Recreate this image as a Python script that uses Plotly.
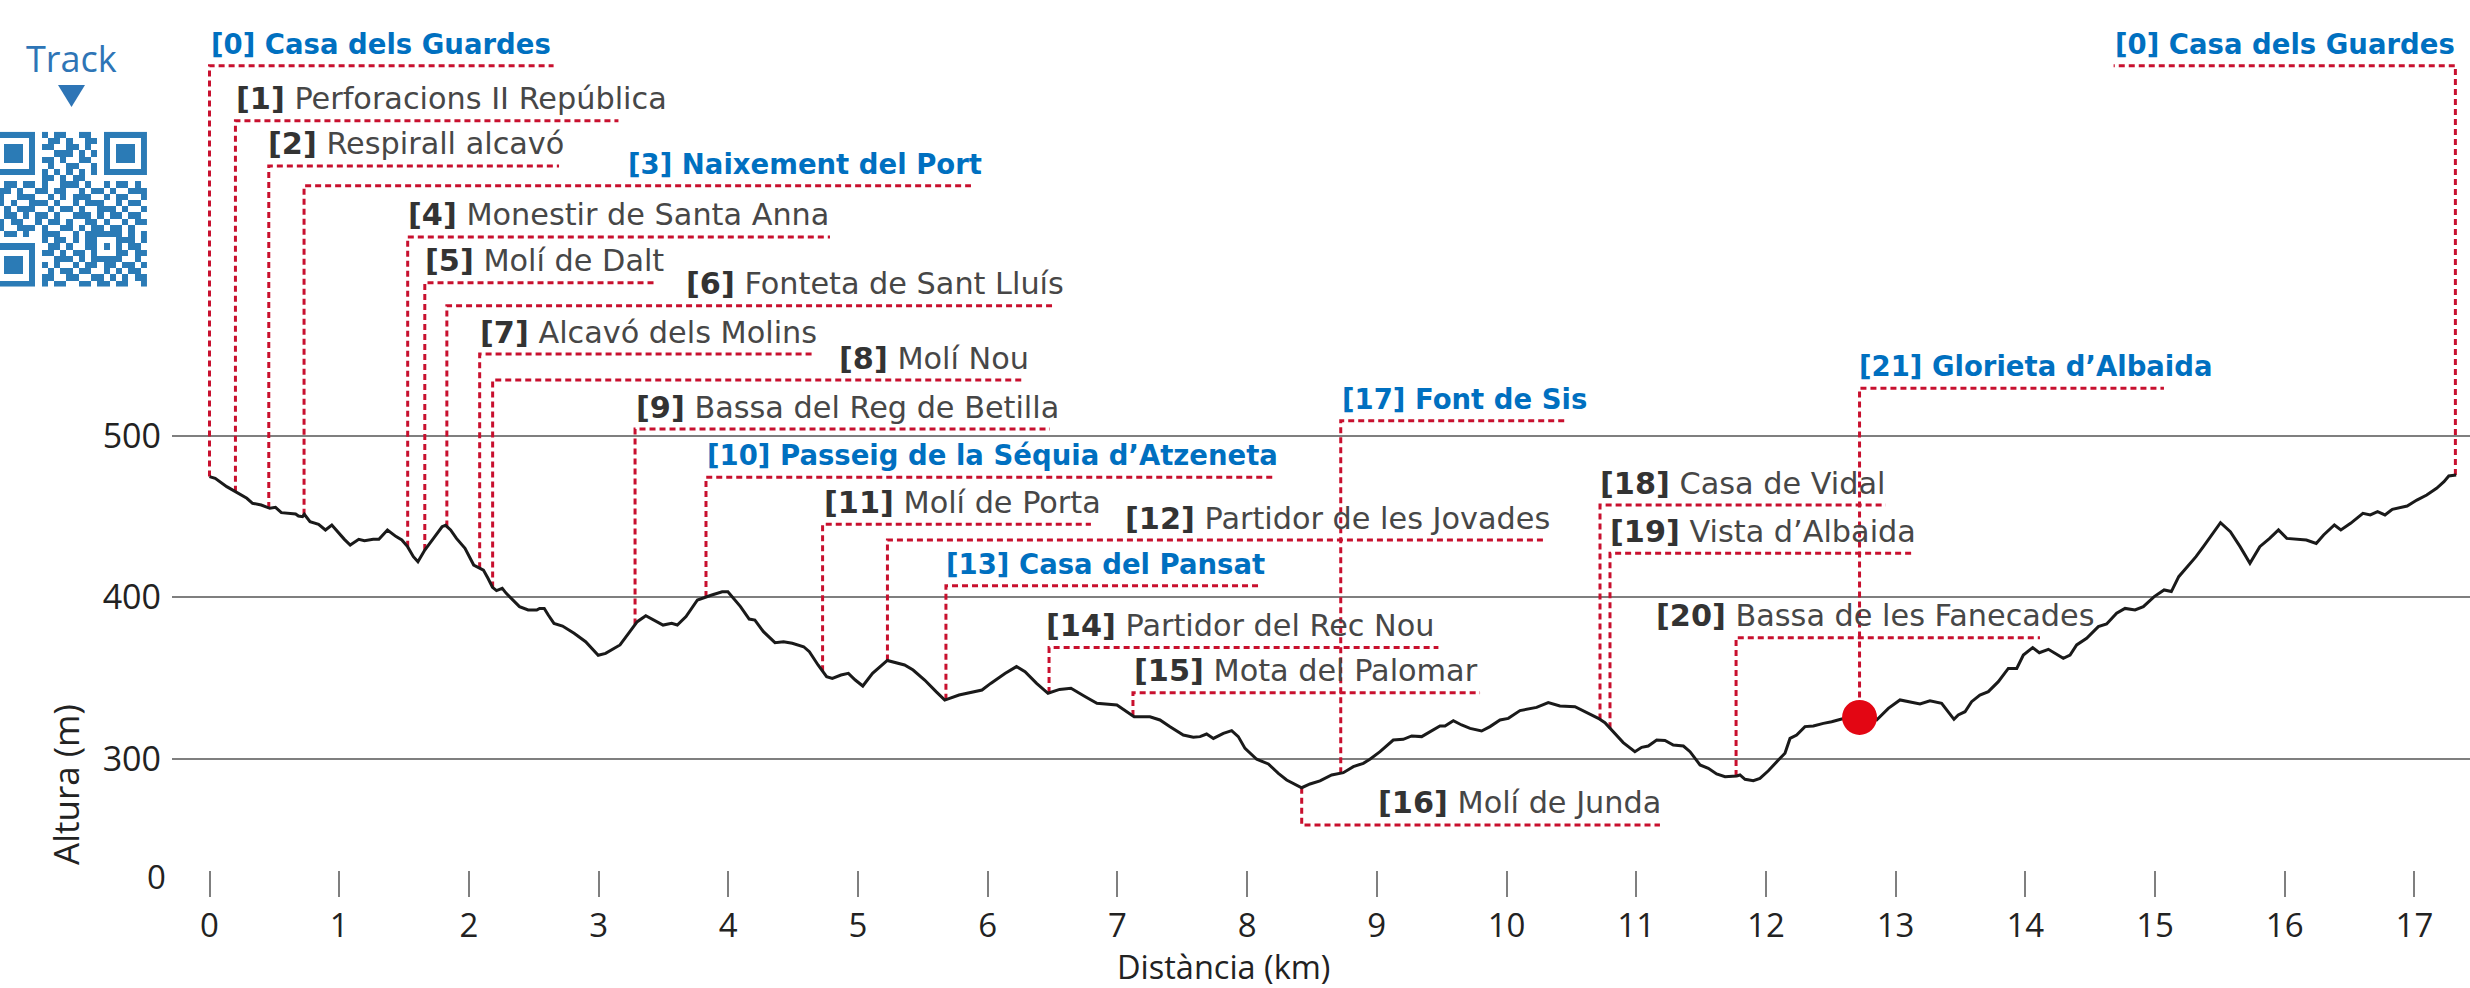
import numpy as np
import plotly.graph_objects as go

# ---------------- data ----------------
PROFILE_KM = [0.000, 0.044, 0.133, 0.199, 0.288, 0.332, 0.399, 0.465, 0.509, 0.554, 0.620, 0.664, 0.686, 0.717,
              0.731, 0.775, 0.841, 0.894, 0.943, 0.996, 1.040, 1.085, 1.151, 1.195, 1.262, 1.306, 1.372, 1.439,
              1.483, 1.527, 1.572, 1.607, 1.660, 1.727, 1.793, 1.820, 1.859, 1.904, 1.970, 2.037, 2.112, 2.147,
              2.182, 2.213, 2.257, 2.288, 2.324, 2.390, 2.457, 2.523, 2.545, 2.581, 2.612, 2.656, 2.722, 2.811,
              2.900, 2.997, 3.054, 3.121, 3.165, 3.231, 3.298, 3.364, 3.430, 3.497, 3.563, 3.607, 3.674, 3.762,
              3.873, 3.953, 3.997, 4.028, 4.094, 4.161, 4.205, 4.271, 4.360, 4.426, 4.493, 4.581, 4.625, 4.692,
              4.758, 4.802, 4.869, 4.926, 4.979, 5.037, 5.112, 5.226, 5.359, 5.425, 5.514, 5.602, 5.669, 5.779,
              5.890, 5.956, 6.023, 6.133, 6.222, 6.288, 6.377, 6.465, 6.554, 6.642, 6.753, 6.842, 6.996, 7.129,
              7.251, 7.328, 7.406, 7.508, 7.585, 7.637, 7.688, 7.740, 7.817, 7.881, 7.932, 7.984, 8.074, 8.164,
              8.241, 8.305, 8.421, 8.485, 8.562, 8.652, 8.742, 8.819, 8.896, 8.947, 9.025, 9.127, 9.204, 9.269,
              9.346, 9.410, 9.487, 9.526, 9.590, 9.654, 9.719, 9.808, 9.873, 9.950, 10.014, 10.104, 10.232,
              10.322, 10.412, 10.528, 10.618, 10.708, 10.759, 10.823, 10.900, 10.990, 11.042, 11.093, 11.158,
              11.222, 11.286, 11.364, 11.415, 11.492, 11.556, 11.620, 11.685, 11.775, 11.800, 11.839, 11.903,
              11.954, 12.019, 12.096, 12.147, 12.186, 12.237, 12.301, 12.366, 12.443, 12.507, 12.584, 12.720,
              12.854, 12.944, 13.034, 13.111, 13.188, 13.265, 13.355, 13.450, 13.483, 13.535, 13.586, 13.650,
              13.715, 13.792, 13.869, 13.934, 13.985, 14.057, 14.108, 14.178, 14.293, 14.345, 14.396, 14.473,
              14.563, 14.627, 14.704, 14.769, 14.846, 14.910, 14.994, 15.070, 15.126, 15.183, 15.240, 15.316,
              15.373, 15.429, 15.505, 15.581, 15.656, 15.732, 15.808, 15.884, 15.952, 16.016, 16.092, 16.167,
              16.243, 16.300, 16.383, 16.433, 16.508, 16.603, 16.660, 16.716, 16.773, 16.830, 16.944, 17.019,
              17.095, 17.171, 17.228, 17.265, 17.322]
PROFILE_M = [474.7, 473.6, 468.5, 465.4, 461.3, 458.2, 457.1, 455.1, 455.7, 452.4, 452.0, 451.6, 450.3, 449.9,
             451.4, 446.8, 445.2, 441.7, 444.8, 439.6, 435.9, 432.4, 435.9, 435.1, 435.9, 435.9, 441.7, 437.6,
             435.5, 431.4, 425.2, 422.1, 429.3, 436.5, 443.7, 444.6, 441.7, 436.5, 430.3, 420.0, 416.9, 411.8,
             406.2, 404.2, 405.6, 402.5, 399.4, 394.3, 392.2, 392.2, 393.2, 393.2, 389.1, 383.9, 382.3, 377.8,
             372.6, 364.2, 365.4, 368.5, 370.6, 377.8, 385.0, 388.7, 386.0, 382.9, 384.0, 382.9, 388.1, 398.4,
             401.5, 403.5, 403.5, 400.5, 394.3, 386.6, 386.0, 378.8, 372.0, 372.6, 371.6, 369.5, 366.4, 358.2,
             351.0, 349.9, 352.0, 353.0, 348.9, 345.2, 353.0, 361.0, 358.2, 355.1, 348.9, 341.7, 336.5, 339.6,
             341.7, 342.7, 346.8, 353.0, 357.2, 354.1, 346.8, 340.7, 343.1, 343.8, 338.6, 334.5, 333.5, 326.2,
             326.2, 324.2, 320.0, 314.9, 313.5, 313.9, 315.5, 312.8, 315.9, 317.6, 313.9, 306.6, 299.9, 297.0,
             291.2, 287.1, 282.3, 284.6, 286.5, 290.2, 291.6, 295.3, 297.4, 299.9, 304.6, 311.8, 312.2, 314.3,
             313.9, 317.0, 320.5, 320.5, 323.8, 321.1, 319.0, 317.4, 320.1, 324.2, 325.2, 330.0, 332.0,
             334.9, 332.8, 332.4, 328.7, 325.2, 322.5, 317.0, 310.2, 304.6, 307.3, 308.1, 311.8,
             311.5, 308.7, 308.1, 304.6, 296.4, 294.3, 290.8, 289.1, 289.6, 290.2, 287.5, 286.7,
             288.1, 292.8, 299.4, 303.6, 312.8, 314.9, 320.1, 320.5, 322.1, 323.1, 324.8, 325.8,
             324.2, 331.4, 336.6, 335.5, 334.1, 336.1, 334.5, 324.6, 327.3, 329.3, 335.5, 339.6,
             341.7, 347.9, 356.1, 356.1, 364.4, 368.9, 365.8, 367.9, 362.3, 364.4, 370.6, 374.7,
             381.9, 383.6, 390.2, 393.2, 392.2, 394.3, 400.5, 404.6, 403.6, 412.8, 418.0, 425.2,
             431.4, 437.6, 446.2, 440.6, 431.4, 421.1, 431.4, 436.5, 441.7, 436.5, 435.9, 435.5,
             433.4, 438.6, 444.8, 441.7, 445.8, 452.0, 451.0, 453.0, 451.0, 454.5, 456.5, 460.2,
             463.3, 467.5, 471.6, 475.1, 475.7]

WAYPOINT_ID = [0, 1, 2, 3, 4, 5, 6, 7, 8, 9, 10, 11, 12, 13, 14, 15, 16, 17, 18, 19, 20, 21, 0]
WAYPOINT_NAME = ["Casa dels Guardes", "Perforacions II República", "Respirall alcavó", "Naixement del Port",
                 "Monestir de Santa Anna", "Molí de Dalt", "Fonteta de Sant Lluís", "Alcavó dels Molins",
                 "Molí Nou", "Bassa del Reg de Betilla", "Passeig de la Séquia d’Atzeneta", "Molí de Porta",
                 "Partidor de les Jovades", "Casa del Pansat", "Partidor del Rec Nou", "Mota del Palomar",
                 "Molí de Junda", "Font de Sis", "Casa de Vidal", "Vista d’Albaida", "Bassa de les Fanecades",
                 "Glorieta d’Albaida", "Casa dels Guardes"]
WAYPOINT_KM = [0.0, 0.20, 0.457, 0.729, 1.528, 1.660, 1.830, 2.083, 2.183, 3.281, 3.828, 4.727, 5.227,
               5.678, 6.473, 7.120, 8.421, 8.722, 10.721, 10.798, 11.770, 12.722, 17.316]
WAYPOINT_HIGHLIGHT = [1, 0, 0, 1, 0, 0, 0, 0, 0, 0, 1, 0, 0, 1, 0, 0, 0, 1, 0, 0, 0, 1, 1]
CURRENT_WAYPOINT = 21

X_TICKS = list(range(0, 18))
Y_TICKS = [300, 400, 500]

# ---------------- label layout (positions, not data) ----------------
LINE_Y = [728.8, 694.8, 666.8, 654.6, 622.9, 594.6, 580.4, 550.5, 534.4, 504.1, 474.3, 445.2, 435.5,
          407.2, 369.0, 341.1, 259.3, 509.3, 457.1, 427.3, 375.1, 529.3, 728.8]
LINE_X1 = [2.653, 3.153, 2.695, 5.871, 4.784, 3.450, 6.496, 4.658, 6.280, 6.480, 8.223, 6.796, 10.303,
           8.103, 9.475, 9.796, 11.183, 10.471, 12.924, 13.146, 14.113, 15.069, 14.681]
TEXT_X = [0.0, 0.197, 0.443, 3.219, 1.523, 1.654, 3.666, 2.075, 4.846, 3.281, 3.828, 4.727, 7.049,
          5.668, 6.442, 7.120, 8.999, 8.724, 10.713, 10.790, 11.145, 12.710, 17.322]
TEXT_ANCHOR = ["left"] * 22 + ["right"]

QR_ROWS = [
    "1111111010110011001111111",
    "1000001001101001101000001",
    "1011101011001101001011101",
    "1011101000111010101011101",
    "1011101011010011001011101",
    "1000001001001100101000001",
    "1111111010101010101111111",
    "0000000011010110000000000",
    "1011011010011101001011010",
    "0110100110110010110100111",
    "1100111001010111001011001",
    "0101001110100101110010110",
    "1010111001011010011101001",
    "0011010110100111010110110",
    "1101100101101001101001011",
    "0100111010011010110110100",
    "1011010011100101111110101",
    "0000000010110101100011101",
    "1111111001101001101010110",
    "1000001011010110100011011",
    "1011101000111010111110010",
    "1011101010100101101101101",
    "1011101001011011001010110",
    "1000001011001100110101011",
    "1111111010110011011011001",
]

# ---------------- styles ----------------
W, H = 2470, 988
PLOT_LEFT, PLOT_BOTTOM = 172, 870
KM0_PX, PX_PER_KM = 209.5, 129.7
M500_PX, PX_PER_M = 435.7, 1.617
RED = "#c8102e"
BLUE = "#0070c0"
LABEL_FONT = "DejaVu Sans"
AXIS_FONT = "Open Sans"

x_range = [(PLOT_LEFT - KM0_PX) / PX_PER_KM, (W - KM0_PX) / PX_PER_KM]
y_range = [500 - (PLOT_BOTTOM - M500_PX) / PX_PER_M, 500 + M500_PX / PX_PER_M]

fig = go.Figure()

# leaders
lx, ly = [], []
for i, km in enumerate(WAYPOINT_KM):
    elev = float(np.interp(km, PROFILE_KM, PROFILE_M))
    lx += [km, km, LINE_X1[i], None]
    ly += [elev, LINE_Y[i], LINE_Y[i], None]
fig.add_trace(go.Scatter(x=lx, y=ly, mode="lines", line=dict(color=RED, width=3, dash="6px,4px"),
                         hoverinfo="skip", showlegend=False))

# profile
fig.add_trace(go.Scatter(x=PROFILE_KM, y=PROFILE_M, mode="lines", line=dict(color="#1a1a1a", width=3),
                         hoverinfo="skip", showlegend=False))

# current position dot
ck = WAYPOINT_KM[CURRENT_WAYPOINT]
fig.add_trace(go.Scatter(x=[ck], y=[float(np.interp(ck, PROFILE_KM, PROFILE_M))], mode="markers",
                         marker=dict(color="#e30613", size=35), hoverinfo="skip", showlegend=False))

# QR code (decorative)
qr = [[int(c) for c in row] for row in QR_ROWS]
fig.add_trace(go.Heatmap(z=qr, xaxis="x2", yaxis="y2", colorscale=[[0, "white"], [1, "#2b7bb6"]],
                         showscale=False, hoverinfo="skip", zmin=0, zmax=1))

annotations = []
for i, name in enumerate(WAYPOINT_NAME):
    wid = WAYPOINT_ID[i]
    if WAYPOINT_HIGHLIGHT[i]:
        txt = f"<b>[{wid}] {name}</b>"
        font = dict(family=LABEL_FONT, size=27.5, color=BLUE)
    else:
        txt = f"<span style='color:#333333'><b>[{wid}]</b></span> {name}"
        font = dict(family=LABEL_FONT, size=30.3, color="#474747")
    annotations.append(dict(x=TEXT_X[i], y=LINE_Y[i], xref="x", yref="y", text=txt, showarrow=False,
                            xanchor=TEXT_ANCHOR[i], yanchor="middle", yshift=22, font=font, borderpad=0))

annotations += [
    dict(x=156 / W, y=1 - 876.5 / PLOT_BOTTOM, xref="paper", yref="paper", text="0", showarrow=False,
         font=dict(family=AXIS_FONT, size=33, color="#222"), xanchor="center", yanchor="middle"),
    dict(x=65 / W, y=1 - 785 / PLOT_BOTTOM, xref="paper", yref="paper", text="Altura (m)", showarrow=False,
         textangle=-90, font=dict(family=AXIS_FONT, size=35, color="#222"), xanchor="center", yanchor="middle"),
    dict(x=1223 / W, y=1 - 966 / PLOT_BOTTOM, xref="paper", yref="paper", text="Distància (km)",
         showarrow=False, font=dict(family=AXIS_FONT, size=32.5, color="#222"), xanchor="center",
         yanchor="middle", borderpad=0),
    dict(x=71 / W, y=1 - 59 / PLOT_BOTTOM, xref="paper", yref="paper", text="Track", showarrow=False,
         font=dict(family=AXIS_FONT, size=36, color="#2e75b6"), xanchor="center", yanchor="middle"),
]

shapes = [dict(type="path", xref="paper", yref="paper",
               path=f"M {58 / W},{1 - 85 / PLOT_BOTTOM} L {85 / W},{1 - 85 / PLOT_BOTTOM} "
                    f"L {71.5 / W},{1 - 107 / PLOT_BOTTOM} Z",
               fillcolor="#2e75b6", line=dict(width=0))]

fig.update_layout(
    width=W, height=H, margin=dict(l=0, r=0, t=0, b=H - PLOT_BOTTOM),
    paper_bgcolor="white", plot_bgcolor="white",
    xaxis=dict(domain=[PLOT_LEFT / W, 1], range=x_range, tickvals=X_TICKS, ticks="outside", ticklen=26,
               tickwidth=2, tickcolor="#7f7f7f", showgrid=False, zeroline=False, showline=False,
               tickfont=dict(family=AXIS_FONT, size=33, color="#222"), ticklabelstandoff=0),
    yaxis=dict(range=y_range, tickvals=Y_TICKS, showgrid=True, gridcolor="#7f7f7f", gridwidth=2,
               zeroline=False, showline=False, ticks="", ticklabelstandoff=10,
               tickfont=dict(family=AXIS_FONT, size=34, color="#222")),
    xaxis2=dict(domain=[0, 147 / W], range=[0.8, 24.5], visible=False, anchor="y2"),
    yaxis2=dict(domain=[1 - 286.7 / PLOT_BOTTOM, 1 - 131.7 / PLOT_BOTTOM], range=[24.5, -0.5],
                visible=False, anchor="x2"),
    annotations=annotations, shapes=shapes, hovermode=False,
)

fig.write_html("out.html", config={"displayModeBar": False},
               post_script="document.body.style.margin='0';document.body.style.overflow='hidden';")
